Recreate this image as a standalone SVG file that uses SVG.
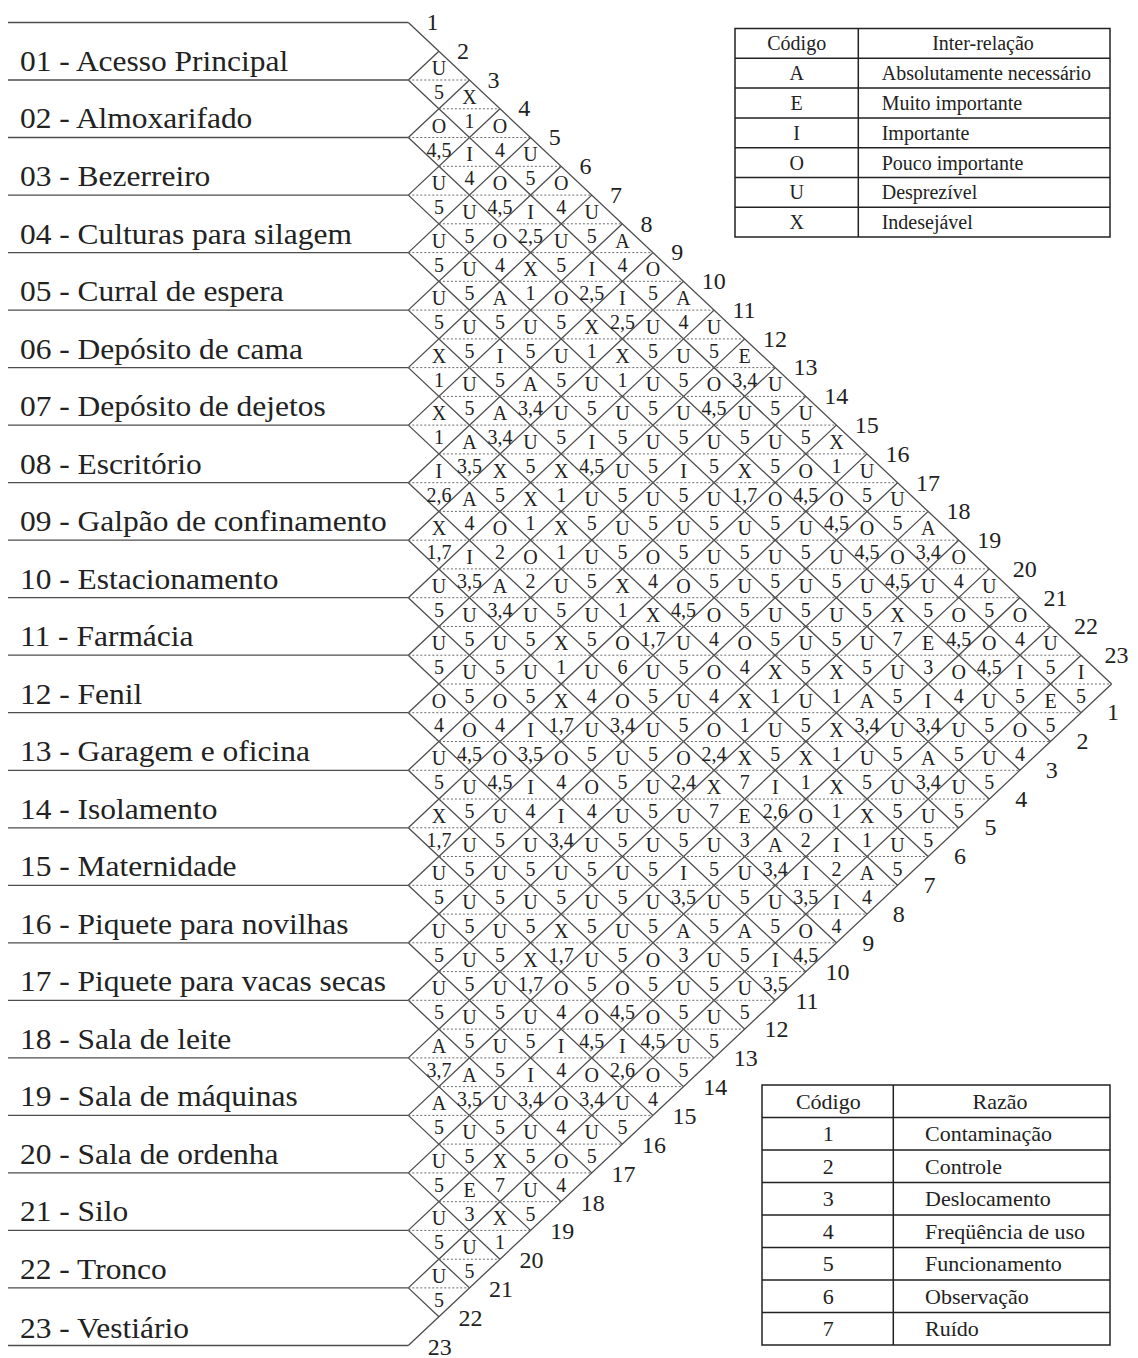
<svg xmlns="http://www.w3.org/2000/svg" width="1138" height="1358" viewBox="0 0 1138 1358">
<style>
.g{fill:none;stroke:#4d4d4d;stroke-width:1.3}
.dt{fill:none;stroke:#6a6a6a;stroke-width:1;stroke-dasharray:2 2}
.c{font-family:"Liberation Serif","Times New Roman",serif;font-size:20px;fill:#222;text-anchor:middle}
.e{font-family:"Liberation Serif","Times New Roman",serif;font-size:24px;fill:#222}
.eb{font-family:"Liberation Serif","Times New Roman",serif;font-size:24px;fill:#222;text-anchor:middle}
.lb{font-family:"Liberation Serif","Times New Roman",serif;font-size:29px;fill:#222}
.t1{font-family:"Liberation Serif","Times New Roman",serif;font-size:20px;fill:#222}
.t2{font-family:"Liberation Serif","Times New Roman",serif;font-size:22px;fill:#222}
.m{text-anchor:middle}
.tb{fill:none;stroke:#222;stroke-width:1.5}
</style>
<rect width="1138" height="1358" fill="#fff"/>
<g id="connectors">
<path class="g" d="M8 22.5H408.3M8 80H408.3M8 137.5H408.3M8 195.1H408.3M8 252.6H408.3M8 310.1H408.3M8 367.6H408.3M8 425.1H408.3M8 482.7H408.3M8 540.2H408.3M8 597.7H408.3M8 655.2H408.3M8 712.7H408.3M8 770.3H408.3M8 827.8H408.3M8 885.3H408.3M8 942.8H408.3M8 1000.3H408.3M8 1057.9H408.3M8 1115.4H408.3M8 1172.9H408.3M8 1230.4H408.3M8 1287.9H408.3M8 1345.5H408.3"/>
<path class="g" d="M408.3 22.5L1111.6 684M408.3 80L1081.1 712.7M408.3 137.5L1050.5 741.5M408.3 195.1L1019.9 770.3M408.3 252.6L989.3 799M408.3 310.1L958.7 827.8M408.3 367.6L928.2 856.5M408.3 425.1L897.6 885.3M408.3 482.7L867 914.1M408.3 540.2L836.4 942.8M408.3 597.7L805.8 971.6M408.3 655.2L775.3 1000.3M408.3 712.7L744.7 1029.1M408.3 770.3L714.1 1057.9M408.3 827.8L683.5 1086.6M408.3 885.3L652.9 1115.4M408.3 942.8L622.4 1144.1M408.3 1000.3L591.8 1172.9M408.3 1057.9L561.2 1201.7M408.3 1115.4L530.6 1230.4M408.3 1172.9L500 1259.2M408.3 1230.4L469.5 1287.9M408.3 1287.9L438.9 1316.7
M408.3 80L438.9 51.3M408.3 137.5L469.5 80M408.3 195.1L500 108.8M408.3 252.6L530.6 137.5M408.3 310.1L561.2 166.3M408.3 367.6L591.8 195.1M408.3 425.1L622.4 223.8M408.3 482.7L652.9 252.6M408.3 540.2L683.5 281.3M408.3 597.7L714.1 310.1M408.3 655.2L744.7 338.9M408.3 712.7L775.3 367.6M408.3 770.3L805.8 396.4M408.3 827.8L836.4 425.1M408.3 885.3L867 453.9M408.3 942.8L897.6 482.7M408.3 1000.3L928.2 511.4M408.3 1057.9L958.7 540.2M408.3 1115.4L989.3 568.9M408.3 1172.9L1019.9 597.7M408.3 1230.4L1050.5 626.5M408.3 1287.9L1081.1 655.2M408.3 1345.5L1111.6 684"/>
<path class="dt" d="M408.3 80H469.5M438.9 108.8H500M408.3 137.5H530.6M438.9 166.3H561.2M408.3 195.1H591.8M438.9 223.8H622.4M408.3 252.6H652.9M438.9 281.3H683.5M408.3 310.1H714.1M438.9 338.9H744.7M408.3 367.6H775.3M438.9 396.4H805.8M408.3 425.1H836.4M438.9 453.9H867M408.3 482.7H897.6M438.9 511.4H928.2M408.3 540.2H958.7M438.9 568.9H989.3M408.3 597.7H1019.9M438.9 626.5H1050.5M408.3 655.2H1081.1M438.9 684H1111.6M408.3 712.7H1081.1M438.9 741.5H1050.5M408.3 770.3H1019.9M438.9 799H989.3M408.3 827.8H958.7M438.9 856.5H928.2M408.3 885.3H897.6M438.9 914.1H867M408.3 942.8H836.4M438.9 971.6H805.8M408.3 1000.3H775.3M438.9 1029.1H744.7M408.3 1057.9H714.1M438.9 1086.6H683.5M408.3 1115.4H652.9M438.9 1144.1H622.4M408.3 1172.9H591.8M438.9 1201.7H561.2M408.3 1230.4H530.6M438.9 1259.2H500M408.3 1287.9H469.5"/>
</g>
<g id="row01"><text class="lb" x="18.4" y="71" transform="scale(1.085,1)">01 - Acesso Principal</text></g>
<g id="row02"><text class="lb" x="18.4" y="128.5" transform="scale(1.085,1)">02 - Almoxarifado</text></g>
<g id="row03"><text class="lb" x="18.4" y="186.1" transform="scale(1.085,1)">03 - Bezerreiro</text></g>
<g id="row04"><text class="lb" x="18.4" y="243.6" transform="scale(1.085,1)">04 - Culturas para silagem</text></g>
<g id="row05"><text class="lb" x="18.4" y="301.1" transform="scale(1.085,1)">05 - Curral de espera</text></g>
<g id="row06"><text class="lb" x="18.4" y="358.6" transform="scale(1.085,1)">06 - Depósito de cama</text></g>
<g id="row07"><text class="lb" x="18.4" y="416.1" transform="scale(1.085,1)">07 - Depósito de dejetos</text></g>
<g id="row08"><text class="lb" x="18.4" y="473.7" transform="scale(1.085,1)">08 - Escritório</text></g>
<g id="row09"><text class="lb" x="18.4" y="531.2" transform="scale(1.085,1)">09 - Galpão de confinamento</text></g>
<g id="row10"><text class="lb" x="18.4" y="588.7" transform="scale(1.085,1)">10 - Estacionamento</text></g>
<g id="row11"><text class="lb" x="18.4" y="646.2" transform="scale(1.085,1)">11 - Farmácia</text></g>
<g id="row12"><text class="lb" x="18.4" y="703.7" transform="scale(1.085,1)">12 - Fenil</text></g>
<g id="row13"><text class="lb" x="18.4" y="761.3" transform="scale(1.085,1)">13 - Garagem e oficina</text></g>
<g id="row14"><text class="lb" x="18.4" y="818.8" transform="scale(1.085,1)">14 - Isolamento</text></g>
<g id="row15"><text class="lb" x="18.4" y="876.3" transform="scale(1.085,1)">15 - Maternidade</text></g>
<g id="row16"><text class="lb" x="18.4" y="933.8" transform="scale(1.085,1)">16 - Piquete para novilhas</text></g>
<g id="row17"><text class="lb" x="18.4" y="991.3" transform="scale(1.085,1)">17 - Piquete para vacas secas</text></g>
<g id="row18"><text class="lb" x="18.4" y="1048.9" transform="scale(1.085,1)">18 - Sala de leite</text></g>
<g id="row19"><text class="lb" x="18.4" y="1106.4" transform="scale(1.085,1)">19 - Sala de máquinas</text></g>
<g id="row20"><text class="lb" x="18.4" y="1163.9" transform="scale(1.085,1)">20 - Sala de ordenha</text></g>
<g id="row21"><text class="lb" x="18.4" y="1221.4" transform="scale(1.085,1)">21 - Silo</text></g>
<g id="row22"><text class="lb" x="18.4" y="1278.9" transform="scale(1.085,1)">22 - Tronco</text></g>
<g id="row23"><text class="lb" x="18.4" y="1338.5" transform="scale(1.085,1)">23 - Vestiário</text></g>
<g id="edge-top" class="e">
<text x="426.4" y="30">1</text><text x="457" y="58.8">2</text><text x="487.6" y="87.6">3</text><text x="518.2" y="116.3">4</text><text x="548.8" y="145.1">5</text><text x="579.4" y="173.9">6</text><text x="610" y="202.7">7</text><text x="640.6" y="231.5">8</text><text x="671.2" y="260.2">9</text><text x="701.8" y="289">10</text><text x="732.4" y="317.8">11</text><text x="763" y="346.6">12</text><text x="793.6" y="375.4">13</text><text x="824.2" y="404.1">14</text><text x="854.8" y="432.9">15</text><text x="885.4" y="461.7">16</text><text x="916" y="490.5">17</text><text x="946.6" y="519.3">18</text><text x="977.2" y="548">19</text><text x="1012.8" y="576.8">20</text><text x="1043.4" y="605.6">21</text><text x="1074" y="634.4">22</text><text x="1104.6" y="663.2">23</text>
</g>
<g id="edge-bottom" class="eb">
<text x="1113" y="720">1</text><text x="1082.4" y="748.9">2</text><text x="1051.8" y="777.7">3</text><text x="1021.2" y="806.6">4</text><text x="990.6" y="835.4">5</text><text x="960" y="864.3">6</text><text x="929.4" y="893.1">7</text><text x="898.8" y="922">8</text><text x="868.2" y="950.8">9</text><text x="837.6" y="979.7">10</text><text x="807" y="1008.5">11</text><text x="776.4" y="1037.4">12</text><text x="745.8" y="1066.2">13</text><text x="715.2" y="1095.1">14</text><text x="684.6" y="1123.9">15</text><text x="654" y="1152.8">16</text><text x="623.4" y="1181.6">17</text><text x="592.8" y="1210.5">18</text><text x="562.2" y="1239.3">19</text><text x="531.6" y="1268.2">20</text><text x="501" y="1297">21</text><text x="470.4" y="1325.9">22</text><text x="439.8" y="1354.7">23</text>
</g>
<g id="cells" class="c">
<g transform="translate(0,80)"><text x="438.9" y="-5">U</text><text x="438.9" y="19">5</text></g>
<g transform="translate(0,108.8)"><text x="469.5" y="-5">X</text><text x="469.5" y="19">1</text></g>
<g transform="translate(0,137.5)"><text x="438.9" y="-5">O</text><text x="438.9" y="19">4,5</text><text x="500" y="-5">O</text><text x="500" y="19">4</text></g>
<g transform="translate(0,166.3)"><text x="469.5" y="-5">I</text><text x="469.5" y="19">4</text><text x="530.6" y="-5">U</text><text x="530.6" y="19">5</text></g>
<g transform="translate(0,195.1)"><text x="438.9" y="-5">U</text><text x="438.9" y="19">5</text><text x="500" y="-5">O</text><text x="500" y="19">4,5</text><text x="561.2" y="-5">O</text><text x="561.2" y="19">4</text></g>
<g transform="translate(0,223.8)"><text x="469.5" y="-5">U</text><text x="469.5" y="19">5</text><text x="530.6" y="-5">I</text><text x="530.6" y="19">2,5</text><text x="591.8" y="-5">U</text><text x="591.8" y="19">5</text></g>
<g transform="translate(0,252.6)"><text x="438.9" y="-5">U</text><text x="438.9" y="19">5</text><text x="500" y="-5">O</text><text x="500" y="19">4</text><text x="561.2" y="-5">U</text><text x="561.2" y="19">5</text><text x="622.4" y="-5">A</text><text x="622.4" y="19">4</text></g>
<g transform="translate(0,281.3)"><text x="469.5" y="-5">U</text><text x="469.5" y="19">5</text><text x="530.6" y="-5">X</text><text x="530.6" y="19">1</text><text x="591.8" y="-5">I</text><text x="591.8" y="19">2,5</text><text x="652.9" y="-5">O</text><text x="652.9" y="19">5</text></g>
<g transform="translate(0,310.1)"><text x="438.9" y="-5">U</text><text x="438.9" y="19">5</text><text x="500" y="-5">A</text><text x="500" y="19">5</text><text x="561.2" y="-5">O</text><text x="561.2" y="19">5</text><text x="622.4" y="-5">I</text><text x="622.4" y="19">2,5</text><text x="683.5" y="-5">A</text><text x="683.5" y="19">4</text></g>
<g transform="translate(0,338.9)"><text x="469.5" y="-5">U</text><text x="469.5" y="19">5</text><text x="530.6" y="-5">U</text><text x="530.6" y="19">5</text><text x="591.8" y="-5">X</text><text x="591.8" y="19">1</text><text x="652.9" y="-5">U</text><text x="652.9" y="19">5</text><text x="714.1" y="-5">U</text><text x="714.1" y="19">5</text></g>
<g transform="translate(0,367.6)"><text x="438.9" y="-5">X</text><text x="438.9" y="19">1</text><text x="500" y="-5">I</text><text x="500" y="19">5</text><text x="561.2" y="-5">U</text><text x="561.2" y="19">5</text><text x="622.4" y="-5">X</text><text x="622.4" y="19">1</text><text x="683.5" y="-5">U</text><text x="683.5" y="19">5</text><text x="744.7" y="-5">E</text><text x="744.7" y="19">3,4</text></g>
<g transform="translate(0,396.4)"><text x="469.5" y="-5">U</text><text x="469.5" y="19">5</text><text x="530.6" y="-5">A</text><text x="530.6" y="19">3,4</text><text x="591.8" y="-5">U</text><text x="591.8" y="19">5</text><text x="652.9" y="-5">U</text><text x="652.9" y="19">5</text><text x="714.1" y="-5">O</text><text x="714.1" y="19">4,5</text><text x="775.3" y="-5">U</text><text x="775.3" y="19">5</text></g>
<g transform="translate(0,425.1)"><text x="438.9" y="-5">X</text><text x="438.9" y="19">1</text><text x="500" y="-5">A</text><text x="500" y="19">3,4</text><text x="561.2" y="-5">U</text><text x="561.2" y="19">5</text><text x="622.4" y="-5">U</text><text x="622.4" y="19">5</text><text x="683.5" y="-5">U</text><text x="683.5" y="19">5</text><text x="744.7" y="-5">U</text><text x="744.7" y="19">5</text><text x="805.8" y="-5">U</text><text x="805.8" y="19">5</text></g>
<g transform="translate(0,453.9)"><text x="469.5" y="-5">A</text><text x="469.5" y="19">3,5</text><text x="530.6" y="-5">U</text><text x="530.6" y="19">5</text><text x="591.8" y="-5">I</text><text x="591.8" y="19">4,5</text><text x="652.9" y="-5">U</text><text x="652.9" y="19">5</text><text x="714.1" y="-5">U</text><text x="714.1" y="19">5</text><text x="775.3" y="-5">U</text><text x="775.3" y="19">5</text><text x="836.4" y="-5">X</text><text x="836.4" y="19">1</text></g>
<g transform="translate(0,482.7)"><text x="438.9" y="-5">I</text><text x="438.9" y="19">2,6</text><text x="500" y="-5">X</text><text x="500" y="19">5</text><text x="561.2" y="-5">X</text><text x="561.2" y="19">1</text><text x="622.4" y="-5">U</text><text x="622.4" y="19">5</text><text x="683.5" y="-5">I</text><text x="683.5" y="19">5</text><text x="744.7" y="-5">X</text><text x="744.7" y="19">1,7</text><text x="805.8" y="-5">O</text><text x="805.8" y="19">4,5</text><text x="867" y="-5">U</text><text x="867" y="19">5</text></g>
<g transform="translate(0,511.4)"><text x="469.5" y="-5">A</text><text x="469.5" y="19">4</text><text x="530.6" y="-5">X</text><text x="530.6" y="19">1</text><text x="591.8" y="-5">U</text><text x="591.8" y="19">5</text><text x="652.9" y="-5">U</text><text x="652.9" y="19">5</text><text x="714.1" y="-5">U</text><text x="714.1" y="19">5</text><text x="775.3" y="-5">O</text><text x="775.3" y="19">5</text><text x="836.4" y="-5">O</text><text x="836.4" y="19">4,5</text><text x="897.6" y="-5">U</text><text x="897.6" y="19">5</text></g>
<g transform="translate(0,540.2)"><text x="438.9" y="-5">X</text><text x="438.9" y="19">1,7</text><text x="500" y="-5">O</text><text x="500" y="19">2</text><text x="561.2" y="-5">X</text><text x="561.2" y="19">1</text><text x="622.4" y="-5">U</text><text x="622.4" y="19">5</text><text x="683.5" y="-5">U</text><text x="683.5" y="19">5</text><text x="744.7" y="-5">U</text><text x="744.7" y="19">5</text><text x="805.8" y="-5">U</text><text x="805.8" y="19">5</text><text x="867" y="-5">O</text><text x="867" y="19">4,5</text><text x="928.2" y="-5">A</text><text x="928.2" y="19">3,4</text></g>
<g transform="translate(0,568.9)"><text x="469.5" y="-5">I</text><text x="469.5" y="19">3,5</text><text x="530.6" y="-5">O</text><text x="530.6" y="19">2</text><text x="591.8" y="-5">U</text><text x="591.8" y="19">5</text><text x="652.9" y="-5">O</text><text x="652.9" y="19">4</text><text x="714.1" y="-5">U</text><text x="714.1" y="19">5</text><text x="775.3" y="-5">U</text><text x="775.3" y="19">5</text><text x="836.4" y="-5">U</text><text x="836.4" y="19">5</text><text x="897.6" y="-5">O</text><text x="897.6" y="19">4,5</text><text x="958.7" y="-5">O</text><text x="958.7" y="19">4</text></g>
<g transform="translate(0,597.7)"><text x="438.9" y="-5">U</text><text x="438.9" y="19">5</text><text x="500" y="-5">A</text><text x="500" y="19">3,4</text><text x="561.2" y="-5">U</text><text x="561.2" y="19">5</text><text x="622.4" y="-5">X</text><text x="622.4" y="19">1</text><text x="683.5" y="-5">O</text><text x="683.5" y="19">4,5</text><text x="744.7" y="-5">U</text><text x="744.7" y="19">5</text><text x="805.8" y="-5">U</text><text x="805.8" y="19">5</text><text x="867" y="-5">U</text><text x="867" y="19">5</text><text x="928.2" y="-5">U</text><text x="928.2" y="19">5</text><text x="989.3" y="-5">U</text><text x="989.3" y="19">5</text></g>
<g transform="translate(0,626.5)"><text x="469.5" y="-5">U</text><text x="469.5" y="19">5</text><text x="530.6" y="-5">U</text><text x="530.6" y="19">5</text><text x="591.8" y="-5">U</text><text x="591.8" y="19">5</text><text x="652.9" y="-5">X</text><text x="652.9" y="19">1,7</text><text x="714.1" y="-5">O</text><text x="714.1" y="19">4</text><text x="775.3" y="-5">U</text><text x="775.3" y="19">5</text><text x="836.4" y="-5">U</text><text x="836.4" y="19">5</text><text x="897.6" y="-5">X</text><text x="897.6" y="19">7</text><text x="958.7" y="-5">O</text><text x="958.7" y="19">4,5</text><text x="1019.9" y="-5">O</text><text x="1019.9" y="19">4</text></g>
<g transform="translate(0,655.2)"><text x="438.9" y="-5">U</text><text x="438.9" y="19">5</text><text x="500" y="-5">U</text><text x="500" y="19">5</text><text x="561.2" y="-5">X</text><text x="561.2" y="19">1</text><text x="622.4" y="-5">O</text><text x="622.4" y="19">6</text><text x="683.5" y="-5">U</text><text x="683.5" y="19">5</text><text x="744.7" y="-5">O</text><text x="744.7" y="19">4</text><text x="805.8" y="-5">U</text><text x="805.8" y="19">5</text><text x="867" y="-5">U</text><text x="867" y="19">5</text><text x="928.2" y="-5">E</text><text x="928.2" y="19">3</text><text x="989.3" y="-5">O</text><text x="989.3" y="19">4,5</text><text x="1050.5" y="-5">U</text><text x="1050.5" y="19">5</text></g>
<g transform="translate(0,684)"><text x="469.5" y="-5">U</text><text x="469.5" y="19">5</text><text x="530.6" y="-5">U</text><text x="530.6" y="19">5</text><text x="591.8" y="-5">U</text><text x="591.8" y="19">4</text><text x="652.9" y="-5">U</text><text x="652.9" y="19">5</text><text x="714.1" y="-5">O</text><text x="714.1" y="19">4</text><text x="775.3" y="-5">X</text><text x="775.3" y="19">1</text><text x="836.4" y="-5">X</text><text x="836.4" y="19">1</text><text x="897.6" y="-5">U</text><text x="897.6" y="19">5</text><text x="958.7" y="-5">O</text><text x="958.7" y="19">4</text><text x="1019.9" y="-5">I</text><text x="1019.9" y="19">5</text><text x="1081.1" y="-5">I</text><text x="1081.1" y="19">5</text></g>
<g transform="translate(0,712.7)"><text x="438.9" y="-5">O</text><text x="438.9" y="19">4</text><text x="500" y="-5">O</text><text x="500" y="19">4</text><text x="561.2" y="-5">X</text><text x="561.2" y="19">1,7</text><text x="622.4" y="-5">O</text><text x="622.4" y="19">3,4</text><text x="683.5" y="-5">U</text><text x="683.5" y="19">5</text><text x="744.7" y="-5">X</text><text x="744.7" y="19">1</text><text x="805.8" y="-5">U</text><text x="805.8" y="19">5</text><text x="867" y="-5">A</text><text x="867" y="19">3,4</text><text x="928.2" y="-5">I</text><text x="928.2" y="19">3,4</text><text x="989.3" y="-5">U</text><text x="989.3" y="19">5</text><text x="1050.5" y="-5">E</text><text x="1050.5" y="19">5</text></g>
<g transform="translate(0,741.5)"><text x="469.5" y="-5">O</text><text x="469.5" y="19">4,5</text><text x="530.6" y="-5">I</text><text x="530.6" y="19">3,5</text><text x="591.8" y="-5">U</text><text x="591.8" y="19">5</text><text x="652.9" y="-5">U</text><text x="652.9" y="19">5</text><text x="714.1" y="-5">O</text><text x="714.1" y="19">2,4</text><text x="775.3" y="-5">U</text><text x="775.3" y="19">5</text><text x="836.4" y="-5">X</text><text x="836.4" y="19">1</text><text x="897.6" y="-5">U</text><text x="897.6" y="19">5</text><text x="958.7" y="-5">U</text><text x="958.7" y="19">5</text><text x="1019.9" y="-5">O</text><text x="1019.9" y="19">4</text></g>
<g transform="translate(0,770.3)"><text x="438.9" y="-5">U</text><text x="438.9" y="19">5</text><text x="500" y="-5">O</text><text x="500" y="19">4,5</text><text x="561.2" y="-5">O</text><text x="561.2" y="19">4</text><text x="622.4" y="-5">U</text><text x="622.4" y="19">5</text><text x="683.5" y="-5">O</text><text x="683.5" y="19">2,4</text><text x="744.7" y="-5">X</text><text x="744.7" y="19">7</text><text x="805.8" y="-5">X</text><text x="805.8" y="19">1</text><text x="867" y="-5">U</text><text x="867" y="19">5</text><text x="928.2" y="-5">A</text><text x="928.2" y="19">3,4</text><text x="989.3" y="-5">U</text><text x="989.3" y="19">5</text></g>
<g transform="translate(0,799)"><text x="469.5" y="-5">U</text><text x="469.5" y="19">5</text><text x="530.6" y="-5">I</text><text x="530.6" y="19">4</text><text x="591.8" y="-5">O</text><text x="591.8" y="19">4</text><text x="652.9" y="-5">U</text><text x="652.9" y="19">5</text><text x="714.1" y="-5">X</text><text x="714.1" y="19">7</text><text x="775.3" y="-5">I</text><text x="775.3" y="19">2,6</text><text x="836.4" y="-5">X</text><text x="836.4" y="19">1</text><text x="897.6" y="-5">U</text><text x="897.6" y="19">5</text><text x="958.7" y="-5">U</text><text x="958.7" y="19">5</text></g>
<g transform="translate(0,827.8)"><text x="438.9" y="-5">X</text><text x="438.9" y="19">1,7</text><text x="500" y="-5">U</text><text x="500" y="19">5</text><text x="561.2" y="-5">I</text><text x="561.2" y="19">3,4</text><text x="622.4" y="-5">U</text><text x="622.4" y="19">5</text><text x="683.5" y="-5">U</text><text x="683.5" y="19">5</text><text x="744.7" y="-5">E</text><text x="744.7" y="19">3</text><text x="805.8" y="-5">O</text><text x="805.8" y="19">2</text><text x="867" y="-5">X</text><text x="867" y="19">1</text><text x="928.2" y="-5">U</text><text x="928.2" y="19">5</text></g>
<g transform="translate(0,856.5)"><text x="469.5" y="-5">U</text><text x="469.5" y="19">5</text><text x="530.6" y="-5">U</text><text x="530.6" y="19">5</text><text x="591.8" y="-5">U</text><text x="591.8" y="19">5</text><text x="652.9" y="-5">U</text><text x="652.9" y="19">5</text><text x="714.1" y="-5">U</text><text x="714.1" y="19">5</text><text x="775.3" y="-5">A</text><text x="775.3" y="19">3,4</text><text x="836.4" y="-5">I</text><text x="836.4" y="19">2</text><text x="897.6" y="-5">U</text><text x="897.6" y="19">5</text></g>
<g transform="translate(0,885.3)"><text x="438.9" y="-5">U</text><text x="438.9" y="19">5</text><text x="500" y="-5">U</text><text x="500" y="19">5</text><text x="561.2" y="-5">U</text><text x="561.2" y="19">5</text><text x="622.4" y="-5">U</text><text x="622.4" y="19">5</text><text x="683.5" y="-5">I</text><text x="683.5" y="19">3,5</text><text x="744.7" y="-5">U</text><text x="744.7" y="19">5</text><text x="805.8" y="-5">I</text><text x="805.8" y="19">3,5</text><text x="867" y="-5">A</text><text x="867" y="19">4</text></g>
<g transform="translate(0,914.1)"><text x="469.5" y="-5">U</text><text x="469.5" y="19">5</text><text x="530.6" y="-5">U</text><text x="530.6" y="19">5</text><text x="591.8" y="-5">U</text><text x="591.8" y="19">5</text><text x="652.9" y="-5">U</text><text x="652.9" y="19">5</text><text x="714.1" y="-5">U</text><text x="714.1" y="19">5</text><text x="775.3" y="-5">U</text><text x="775.3" y="19">5</text><text x="836.4" y="-5">I</text><text x="836.4" y="19">4</text></g>
<g transform="translate(0,942.8)"><text x="438.9" y="-5">U</text><text x="438.9" y="19">5</text><text x="500" y="-5">U</text><text x="500" y="19">5</text><text x="561.2" y="-5">X</text><text x="561.2" y="19">1,7</text><text x="622.4" y="-5">U</text><text x="622.4" y="19">5</text><text x="683.5" y="-5">A</text><text x="683.5" y="19">3</text><text x="744.7" y="-5">A</text><text x="744.7" y="19">5</text><text x="805.8" y="-5">O</text><text x="805.8" y="19">4,5</text></g>
<g transform="translate(0,971.6)"><text x="469.5" y="-5">U</text><text x="469.5" y="19">5</text><text x="530.6" y="-5">X</text><text x="530.6" y="19">1,7</text><text x="591.8" y="-5">U</text><text x="591.8" y="19">5</text><text x="652.9" y="-5">O</text><text x="652.9" y="19">5</text><text x="714.1" y="-5">U</text><text x="714.1" y="19">5</text><text x="775.3" y="-5">I</text><text x="775.3" y="19">3,5</text></g>
<g transform="translate(0,1000.3)"><text x="438.9" y="-5">U</text><text x="438.9" y="19">5</text><text x="500" y="-5">U</text><text x="500" y="19">5</text><text x="561.2" y="-5">O</text><text x="561.2" y="19">4</text><text x="622.4" y="-5">O</text><text x="622.4" y="19">4,5</text><text x="683.5" y="-5">U</text><text x="683.5" y="19">5</text><text x="744.7" y="-5">U</text><text x="744.7" y="19">5</text></g>
<g transform="translate(0,1029.1)"><text x="469.5" y="-5">U</text><text x="469.5" y="19">5</text><text x="530.6" y="-5">U</text><text x="530.6" y="19">5</text><text x="591.8" y="-5">O</text><text x="591.8" y="19">4,5</text><text x="652.9" y="-5">O</text><text x="652.9" y="19">4,5</text><text x="714.1" y="-5">U</text><text x="714.1" y="19">5</text></g>
<g transform="translate(0,1057.9)"><text x="438.9" y="-5">A</text><text x="438.9" y="19">3,7</text><text x="500" y="-5">U</text><text x="500" y="19">5</text><text x="561.2" y="-5">I</text><text x="561.2" y="19">4</text><text x="622.4" y="-5">I</text><text x="622.4" y="19">2,6</text><text x="683.5" y="-5">U</text><text x="683.5" y="19">5</text></g>
<g transform="translate(0,1086.6)"><text x="469.5" y="-5">A</text><text x="469.5" y="19">3,5</text><text x="530.6" y="-5">I</text><text x="530.6" y="19">3,4</text><text x="591.8" y="-5">O</text><text x="591.8" y="19">3,4</text><text x="652.9" y="-5">O</text><text x="652.9" y="19">4</text></g>
<g transform="translate(0,1115.4)"><text x="438.9" y="-5">A</text><text x="438.9" y="19">5</text><text x="500" y="-5">U</text><text x="500" y="19">5</text><text x="561.2" y="-5">O</text><text x="561.2" y="19">4</text><text x="622.4" y="-5">U</text><text x="622.4" y="19">5</text></g>
<g transform="translate(0,1144.1)"><text x="469.5" y="-5">U</text><text x="469.5" y="19">5</text><text x="530.6" y="-5">U</text><text x="530.6" y="19">5</text><text x="591.8" y="-5">U</text><text x="591.8" y="19">5</text></g>
<g transform="translate(0,1172.9)"><text x="438.9" y="-5">U</text><text x="438.9" y="19">5</text><text x="500" y="-5">X</text><text x="500" y="19">7</text><text x="561.2" y="-5">O</text><text x="561.2" y="19">4</text></g>
<g transform="translate(0,1201.7)"><text x="469.5" y="-5">E</text><text x="469.5" y="19">3</text><text x="530.6" y="-5">U</text><text x="530.6" y="19">5</text></g>
<g transform="translate(0,1230.4)"><text x="438.9" y="-5">U</text><text x="438.9" y="19">5</text><text x="500" y="-5">X</text><text x="500" y="19">1</text></g>
<g transform="translate(0,1259.2)"><text x="469.5" y="-5">U</text><text x="469.5" y="19">5</text></g>
<g transform="translate(0,1287.9)"><text x="438.9" y="-5">U</text><text x="438.9" y="19">5</text></g>
</g>
<g id="legend-interrelacao">
<rect class="tb" x="735" y="28.5" width="375" height="208.5"/>
<path class="tb" d="M735 58.3H1110M735 88.1H1110M735 117.9H1110M735 147.7H1110M735 177.5H1110M735 207.3H1110M858.3 28.5V237"/>
<g class="t1">
<text class="m" x="796.7" y="50.4">Código</text><text class="m" x="983" y="50.4">Inter-relação</text>
<text class="m" x="796.7" y="80.2">A</text><text x="881.7" y="80.2">Absolutamente necessário</text>
<text class="m" x="796.7" y="110">E</text><text x="881.7" y="110">Muito importante</text>
<text class="m" x="796.7" y="139.8">I</text><text x="881.7" y="139.8">Importante</text>
<text class="m" x="796.7" y="169.6">O</text><text x="881.7" y="169.6">Pouco importante</text>
<text class="m" x="796.7" y="199.4">U</text><text x="881.7" y="199.4">Desprezível</text>
<text class="m" x="796.7" y="229.2">X</text><text x="881.7" y="229.2">Indesejável</text>
</g>
</g>
<g id="legend-razao">
<rect class="tb" x="762" y="1085" width="348" height="260"/>
<path class="tb" d="M762 1117.5H1110M762 1150H1110M762 1182.5H1110M762 1215H1110M762 1247.5H1110M762 1280H1110M762 1312.5H1110M893.3 1085V1345"/>
<g class="t2">
<text class="m" x="828.3" y="1108.8">Código</text><text class="m" x="1000" y="1108.8">Razão</text>
<text class="m" x="828.3" y="1141.3">1</text><text x="925" y="1141.3">Contaminação</text>
<text class="m" x="828.3" y="1173.8">2</text><text x="925" y="1173.8">Controle</text>
<text class="m" x="828.3" y="1206.3">3</text><text x="925" y="1206.3">Deslocamento</text>
<text class="m" x="828.3" y="1238.8">4</text><text x="925" y="1238.8">Freqüência de uso</text>
<text class="m" x="828.3" y="1271.3">5</text><text x="925" y="1271.3">Funcionamento</text>
<text class="m" x="828.3" y="1303.8">6</text><text x="925" y="1303.8">Observação</text>
<text class="m" x="828.3" y="1336.3">7</text><text x="925" y="1336.3">Ruído</text>
</g>
</g>
</svg>
